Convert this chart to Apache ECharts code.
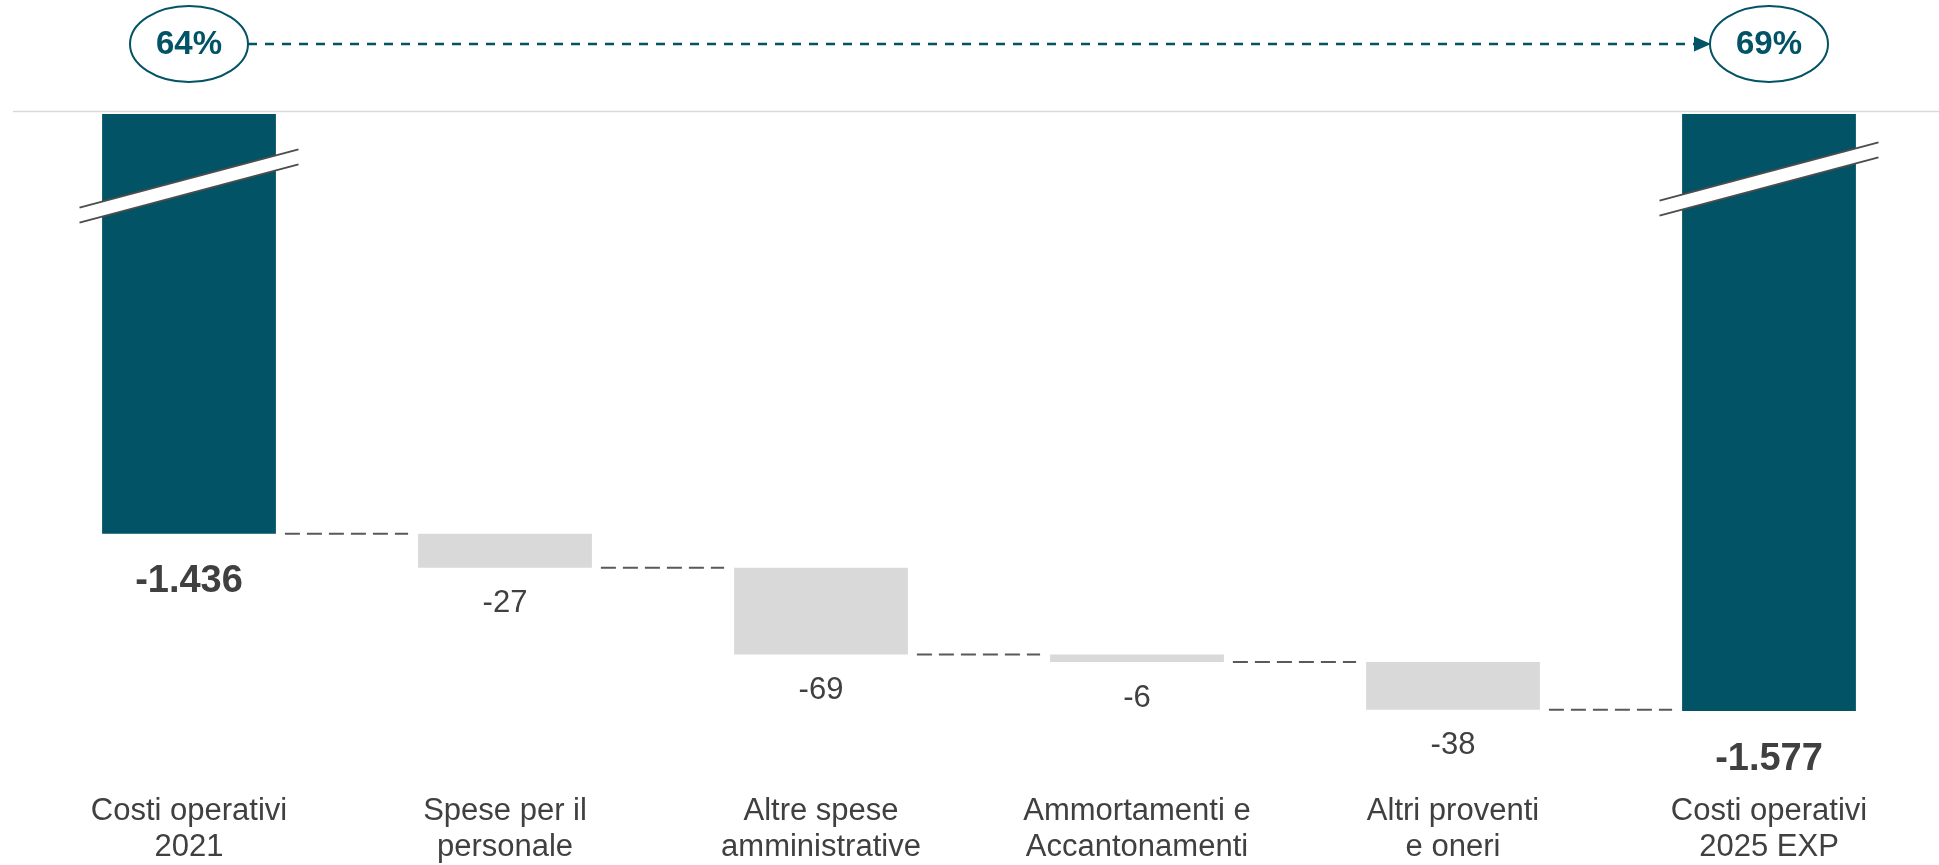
<html>
  <head>
    <meta http-equiv="Content-Type" content="text/html; charset=utf-8" />
    <script src="https://cdn.jsdelivr.net/npm/echarts@6/dist/echarts.min.js"></script>
    <style>
      html, body { margin: 0; padding: 0; background: #fff; }
    </style>
  </head>
  <body>
    <div id="main" style="width: 1939px;height:865px;"></div>
    <script type="text/javascript">
// dati del grafico
var categories = ['Costi operativi\n2021', 'Spese per il\npersonale', 'Altre spese\namministrative',
                  'Ammortamenti e\nAccantonamenti', 'Altri proventi\ne oneri', 'Costi operativi\n2025 EXP'];
var values = [-1436, -27, -69, -6, -38, -1577];
var isTotal = [true, false, false, false, false, true];
var ratios = ['64%', '69%'];

var TEAL = '#025366';
var GREY = '#d9d9d9';
var TEXT = '#404040';

// base trasparente e cumulati per i connettori
var base = [], steps = [], cum = 0;
for (var i = 0; i < values.length; i++) {
  if (isTotal[i]) {
    base.push('-');
    cum = values[i];
  } else {
    base.push(cum);
    cum += values[i];
  }
  if (i < values.length - 1) steps.push([i, cum]);
}

function fmt(v) {
  var s = String(Math.abs(v));
  s = s.replace(/\B(?=(\d{3})+(?!\d))/g, '.');
  return (v < 0 ? '-' : '') + s;
}

var barData = values.map(function (v, i) {
  return {
    value: v,
    itemStyle: { color: isTotal[i] ? TEAL : GREY },
    label: isTotal[i]
      ? { fontSize: 38, fontWeight: 'bold', distance: 29, lineHeight: 38 }
      : { fontSize: 31, fontWeight: 'normal', distance: 20, lineHeight: 32 }
  };
});

var myChart = echarts.init(document.getElementById('main'));

var option = {
  animation: false,
  textStyle: { fontFamily: 'Liberation Sans' },
  grid: { left: 31, right: 12, top: 114, bottom: 123 },
  xAxis: {
    type: 'category',
    data: categories,
    axisLine: { show: false },
    axisTick: { show: false },
    axisLabel: { interval: 0, fontSize: 31, lineHeight: 36, color: TEXT, margin: 53 }
  },
  yAxis: {
    type: 'value',
    min: -1600,
    max: -1102,
    show: false,
    splitLine: { show: false }
  },
  series: [
    {
      type: 'bar',
      stack: 'wf',
      barWidth: '55%',
      clip: true,
      itemStyle: { color: 'transparent' },
      emphasis: { disabled: true },
      data: base
    },
    {
      type: 'bar',
      stack: 'wf',
      barWidth: '55%',
      clip: true,
      label: {
        show: true,
        position: 'bottom',
        color: TEXT,
        formatter: function (p) { return fmt(p.value); }
      },
      data: barData
    },
    {
      type: 'custom',
      data: steps,
      renderItem: function (params, api) {
        var idx = api.value(0), v = api.value(1);
        var a = api.coord([idx, v]);
        var b = api.coord([idx + 1, v]);
        var half = api.size([1, 0])[0] * 0.55 / 2;
        return {
          type: 'line',
          shape: { x1: a[0] + half + 9, y1: a[1], x2: b[0] - half - 10, y2: b[1] },
          style: { stroke: '#595959', lineWidth: 2, lineDash: [15, 7] }
        };
      }
    }
  ]
};

myChart.setOption(option);

// ellissi, freccia, linea superiore e segni di interruzione
var xFirst = myChart.convertToPixel({ xAxisIndex: 0 }, categories[0]);
var xLast = myChart.convertToPixel({ xAxisIndex: 0 }, categories[categories.length - 1]);
var cy = 44, rx = 59, ry = 38;
var graphics = [];

graphics.push({
  type: 'line', silent: true, z: 100,
  shape: { x1: 13, y1: 111.5, x2: 1939, y2: 111.5 },
  style: { stroke: '#d9d9d9', lineWidth: 1.5 }
});

graphics.push({
  type: 'line', silent: true, z: 100,
  shape: { x1: xFirst + rx, y1: cy, x2: xLast - rx - 14, y2: cy },
  style: { stroke: TEAL, lineWidth: 2.7, lineDash: [9, 8] }
});
graphics.push({
  type: 'polygon', silent: true, z: 100,
  shape: { points: [[xLast - rx - 16, cy - 7.5], [xLast - rx + 1, cy], [xLast - rx - 16, cy + 7.5]] },
  style: { fill: TEAL }
});

[xFirst, xLast].forEach(function (x, k) {
  graphics.push({
    type: 'ellipse', silent: true, z: 100,
    shape: { cx: x, cy: cy, rx: rx, ry: ry },
    style: { fill: '#fff', stroke: TEAL, lineWidth: 2 }
  });
  graphics.push({
    type: 'text', silent: true, z: 101,
    x: x, y: cy + 1,
    style: {
      text: ratios[k], fill: TEAL, font: 'bold 33px "Liberation Sans"',
      align: 'center', verticalAlign: 'middle'
    }
  });
});

var breakY = [186, 179];
[xFirst, xLast].forEach(function (x, k) {
  var yc = breakY[k], hl = 109.5, dy = 29.1, th = 7.5;
  graphics.push({
    type: 'polygon', silent: true, z: 100,
    shape: { points: [[x - hl, yc - th + dy], [x + hl, yc - th - dy], [x + hl, yc + th - dy], [x - hl, yc + th + dy]] },
    style: { fill: '#fff' }
  });
  graphics.push({
    type: 'line', silent: true, z: 101,
    shape: { x1: x - hl, y1: yc - th + dy, x2: x + hl, y2: yc - th - dy },
    style: { stroke: '#4d4d4d', lineWidth: 2 }
  });
  graphics.push({
    type: 'line', silent: true, z: 101,
    shape: { x1: x - hl, y1: yc + th + dy, x2: x + hl, y2: yc + th - dy },
    style: { stroke: '#4d4d4d', lineWidth: 2 }
  });
});

myChart.setOption({ graphic: graphics });
    </script>
  </body>
</html>
